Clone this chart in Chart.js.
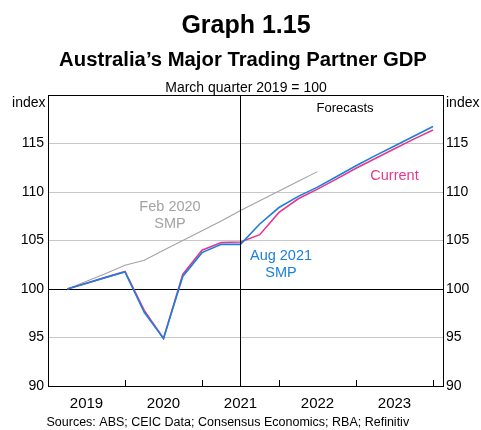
<!DOCTYPE html>
<html>
<head>
<meta charset="utf-8">
<script src="https://cdn.jsdelivr.net/npm/chart.js@4.4.0/dist/chart.umd.min.js"></script>
<style>
  html, body { margin: 0; padding: 0; background: #ffffff; }
  #wrap { position: relative; width: 481px; height: 430px; }
  canvas { display: block; }
</style>
</head>
<body>
<div id="wrap"><canvas id="c" width="481" height="430"></canvas></div>
<script>
// ---- Data (quarterly, index, March quarter 2019 = 100) ----
const quarters = ['Mar-19','Jun-19','Sep-19','Dec-19','Mar-20','Jun-20','Sep-20','Dec-20',
                  'Mar-21','Jun-21','Sep-21','Dec-21','Mar-22','Jun-22','Sep-22','Dec-22',
                  'Mar-23','Jun-23','Sep-23','Dec-23'];
const feb2020SMP = [100, 100.8, 101.6, 102.45, 102.96, 104.0, 105.0, 106.0, 107.0, 108.1,
                    109.1, 110.1, 111.1, 112.1];
const aug2021SMP = [100, 100.6, 101.2, 101.75, 97.6, 94.9, 101.3, 103.75, 104.6, 104.6,
                    106.7, 108.4, 109.55, 110.5, 111.6, 112.7, 113.75, 114.75, 115.75, 116.75];
const current    = [100, 100.6, 101.2, 101.8, 97.8, 94.9, 101.5, 104.0, 104.8, 104.85,
                    105.6, 107.9, 109.3, 110.3, 111.35, 112.45, 113.45, 114.45, 115.45, 116.4];
const years = ['2019', '2020', '2021', '2022', '2023'];
const yTicks = [90, 95, 100, 105, 110, 115];
const forecastStart = 'Jun-21';

// x position: quarters counted from start of 2019 (end of quarter)
const qx = q => quarters.indexOf(q) + 1;
const toPts = arr => arr.map((v, i) => ({ x: qx(quarters[i]), y: v }));

const FONT = 'Arial, "Liberation Sans", Helvetica, sans-serif';
const BLUE = '#1b7fdb', PINK = '#e6378f', GREY = '#a3a3a3';

const overlay = {
  id: 'overlay',
  afterDraw(chart) {
    const ctx = chart.ctx, xs = chart.scales.x, a = chart.chartArea;
    ctx.save();
    // x-axis tick marks at year boundaries, pointing inward
    ctx.strokeStyle = '#000'; ctx.lineWidth = 1;
    for (let k = 1; k <= years.length; k++) {
      const px = Math.round(xs.getPixelForValue(k * 4)) + 0.5;
      ctx.beginPath(); ctx.moveTo(px, a.bottom); ctx.lineTo(px, a.bottom - 6); ctx.stroke();
    }
    // forecast divider
    const fx = Math.round(xs.getPixelForValue(qx(forecastStart))) + 0.5;
    ctx.beginPath(); ctx.moveTo(fx, a.top); ctx.lineTo(fx, a.bottom); ctx.stroke();

    // titles
    ctx.fillStyle = '#000'; ctx.textAlign = 'center'; ctx.textBaseline = 'alphabetic';
    ctx.font = 'bold 25px ' + FONT; ctx.fillText('Graph 1.15', 246, 33);
    ctx.font = 'bold 20.3px ' + FONT; ctx.fillText('Australia\u2019s Major Trading Partner GDP', 243, 66);
    ctx.font = '14px ' + FONT; ctx.fillText('March quarter 2019 = 100', 246, 91.5);
    // units
    ctx.font = '14px ' + FONT;
    ctx.textAlign = 'right'; ctx.fillText('index', 45.5, 107);
    ctx.textAlign = 'left'; ctx.fillText('index', 446, 107);
    // sources
    ctx.font = '12.5px ' + FONT; ctx.textAlign = 'left';
    ctx.fillText('Sources: ABS; CEIC Data; Consensus Economics; RBA; Refinitiv', 46.5, 426);

    // annotations
    ctx.textAlign = 'center'; ctx.textBaseline = 'middle';
    ctx.font = '13px ' + FONT; ctx.fillStyle = '#000';
    ctx.fillText('Forecasts', 345, 108);
    ctx.font = '14.5px ' + FONT;
    ctx.fillStyle = GREY;
    ctx.fillText('Feb 2020', 170, 207); ctx.fillText('SMP', 170, 224);
    ctx.fillStyle = BLUE;
    ctx.fillText('Aug 2021', 281, 256); ctx.fillText('SMP', 281, 273);
    ctx.fillStyle = PINK;
    ctx.fillText('Current', 394.5, 176);
    ctx.restore();
  }
};

const gridColor = ctx => {
  const v = ctx.tick && ctx.tick.value;
  if (v === 100 || v === 120 || v === 90) return '#000';
  return '#c8c8c8';
};

new Chart(document.getElementById('c'), {
  type: 'line',
  data: {
    datasets: [
      { label: 'Aug 2021 SMP', data: toPts(aug2021SMP), borderColor: BLUE, borderWidth: 1.6, order: 1 },
      { label: 'Current', data: toPts(current), borderColor: PINK, borderWidth: 1.6, order: 2 },
      { label: 'Feb 2020 SMP', data: toPts(feb2020SMP), borderColor: GREY, borderWidth: 1.1, order: 3 }
    ]
  },
  options: {
    responsive: false,
    animation: false,
    events: [],
    layout: { padding: { top: 95, left: 0, right: 0, bottom: 0 } },
    elements: { point: { radius: 0 }, line: { tension: 0, fill: false } },
    plugins: { legend: { display: false }, tooltip: { enabled: false }, title: { display: false } },
    scales: {
      x: {
        type: 'linear', min: 0, max: 20.52,
        afterBuildTicks: s => { s.ticks = years.map((y, i) => ({ value: i * 4 + 2 })); },
        afterFit: s => { s.height = 44; },
        grid: { display: false, drawTicks: false },
        border: { display: true, color: '#000', width: 1 },
        ticks: {
          autoSkip: false, maxRotation: 0, padding: 9,
          color: '#000', font: { size: 15, family: FONT },
          callback: (v) => years[Math.round((v - 2) / 4)]
        }
      },
      y: {
        position: 'left', min: 90, max: 120,
        afterBuildTicks: s => { s.ticks = yTicks.concat([120]).map(v => ({ value: v })); },
        afterFit: s => { s.width = 48; },
        grid: { color: gridColor, drawTicks: false, lineWidth: 1 },
        border: { display: true, color: '#000', width: 1 },
        ticks: {
          padding: 4, color: '#000', font: { size: 14, family: FONT },
          callback: v => (v === 120 ? '' : String(v))
        }
      },
      y2: {
        position: 'right', min: 90, max: 120,
        afterBuildTicks: s => { s.ticks = yTicks.concat([120]).map(v => ({ value: v })); },
        afterFit: s => { s.width = 38; },
        grid: { display: false, drawTicks: false },
        border: { display: true, color: '#000', width: 1 },
        ticks: {
          padding: 3, color: '#000', font: { size: 14, family: FONT },
          callback: v => (v === 120 ? '' : String(v))
        }
      }
    }
  },
  plugins: [overlay]
});
</script>
</body>
</html>
